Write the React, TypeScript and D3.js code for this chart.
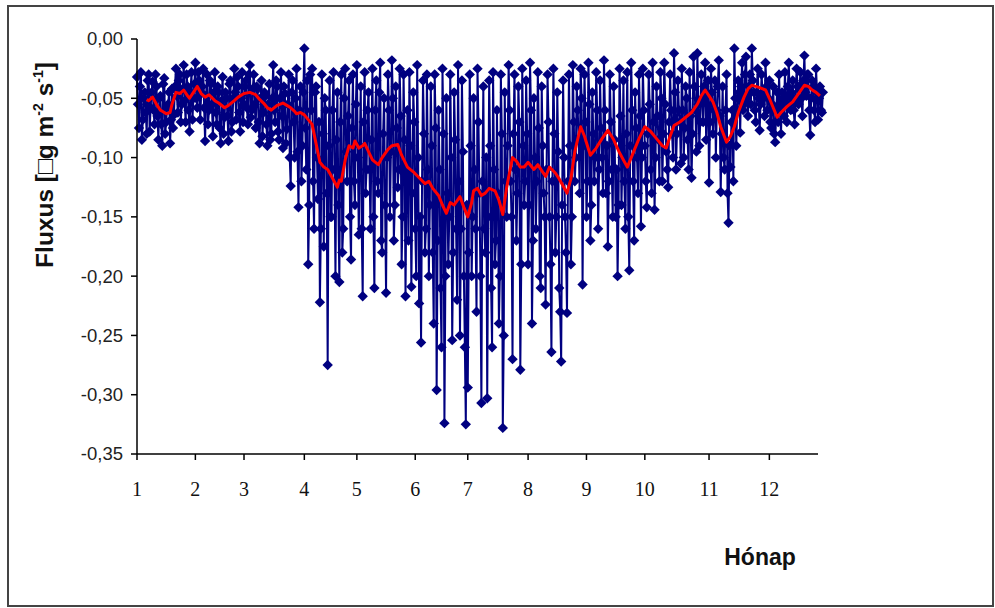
import React from "react";
import * as d3 from "d3";

// Flux values, first reading of each day (day index 0..352)
const fluxValues: number[] = [
  -0.032, -0.075, -0.028, -0.068, -0.045, -0.080, -0.030, -0.058, -0.036, -0.072,
  -0.040, -0.085, -0.048, -0.090, -0.033, -0.070, -0.055, -0.088, -0.042, -0.064,
  -0.025, -0.062, -0.030, -0.055, -0.022, -0.070, -0.040, -0.078, -0.028, -0.050,
  -0.020, -0.058, -0.035, -0.045, -0.025, -0.086, -0.030, -0.060, -0.038, -0.082,
  -0.028, -0.072, -0.045, -0.088, -0.032, -0.066, -0.050, -0.086, -0.035, -0.070,
  -0.025, -0.068, -0.040, -0.078, -0.028, -0.055, -0.035, -0.072, -0.022, -0.060,
  -0.030, -0.075, -0.042, -0.088, -0.035, -0.062, -0.048, -0.090, -0.038, -0.080,
  -0.022, -0.070, -0.040, -0.085, -0.028, -0.092, -0.046, -0.076, -0.030, -0.124,
  -0.035, -0.100, -0.025, -0.142, -0.040, -0.090, -0.008, -0.110, -0.190, -0.030,
  -0.025, -0.160, -0.040, -0.135, -0.222, -0.030, -0.175, -0.060, -0.275, -0.035,
  -0.150, -0.028, -0.200, -0.045, -0.205, -0.030, -0.160, -0.025, -0.120, -0.035,
  -0.186, -0.030, -0.140, -0.022, -0.165, -0.040, -0.217, -0.028, -0.110, -0.045,
  -0.160, -0.025, -0.210, -0.035, -0.130, -0.020, -0.180, -0.050, -0.214, -0.030,
  -0.150, -0.018, -0.170, -0.040, -0.125, -0.025, -0.190, -0.030, -0.217, -0.060,
  -0.028, -0.209, -0.045, -0.160, -0.022, -0.223, -0.256, -0.035, -0.180, -0.030,
  -0.200, -0.040, -0.180, -0.030, -0.296, -0.060, -0.210, -0.025, -0.324, -0.050,
  -0.190, -0.030, -0.254, -0.045, -0.160, -0.022, -0.250, -0.035, -0.200, -0.325,
  -0.294, -0.030, -0.200, -0.050, -0.160, -0.025, -0.130, -0.307, -0.040, -0.180,
  -0.303, -0.035, -0.210, -0.028, -0.190, -0.060, -0.240, -0.030, -0.328, -0.045,
  -0.150, -0.022, -0.120, -0.270, -0.030, -0.170, -0.040, -0.279, -0.025, -0.140,
  -0.035, -0.190, -0.020, -0.240, -0.050, -0.160, -0.028, -0.200, -0.040, -0.130,
  -0.224, -0.030, -0.150, -0.264, -0.025, -0.180, -0.045, -0.210, -0.272, -0.035,
  -0.150, -0.231, -0.030, -0.190, -0.022, -0.120, -0.040, -0.085, -0.025, -0.207,
  -0.030, -0.150, -0.020, -0.170, -0.045, -0.120, -0.028, -0.160, -0.035, -0.100,
  -0.018, -0.130, -0.175, -0.030, -0.110, -0.040, -0.150, -0.200, -0.025, -0.140,
  -0.035, -0.160, -0.028, -0.195, -0.020, -0.120, -0.045, -0.100, -0.030, -0.158,
  -0.025, -0.090, -0.142, -0.030, -0.110, -0.020, -0.144, -0.040, -0.085, -0.028,
  -0.120, -0.020, -0.095, -0.125, -0.030, -0.080, -0.012, -0.110, -0.035, -0.070,
  -0.025, -0.100, -0.040, -0.085, -0.028, -0.117, -0.015, -0.060, -0.012, -0.090,
  -0.030, -0.070, -0.020, -0.055, -0.121, -0.025, -0.080, -0.035, -0.060, -0.018,
  -0.129, -0.040, -0.110, -0.030, -0.155, -0.108, -0.060, -0.008, -0.090, -0.035,
  -0.079, -0.020, -0.055, -0.015, -0.065, -0.030, -0.008, -0.045, -0.070, -0.025,
  -0.077, -0.030, -0.050, -0.020, -0.060, -0.035, -0.075, -0.040, -0.087, -0.045,
  -0.030, -0.080, -0.050, -0.028, -0.070, -0.020, -0.060, -0.035, -0.072, -0.025,
  -0.055, -0.028, -0.065, -0.014, -0.048, -0.030, -0.081, -0.035, -0.060, -0.025,
  -0.068, -0.040, -0.062,
];

// Flux values, second reading of each day (half a day later)
const fluxValuesB: number[] = [
  -0.055, -0.040, -0.085, -0.050, -0.062, -0.035, -0.078, -0.045, -0.060, -0.030,
  -0.065, -0.050, -0.072, -0.038, -0.080, -0.058, -0.045, -0.068, -0.075, -0.040,
  -0.048, -0.035, -0.070, -0.042, -0.052, -0.030, -0.060, -0.045, -0.068, -0.038,
  -0.050, -0.028, -0.068, -0.040, -0.058, -0.048, -0.072, -0.035, -0.055, -0.045,
  -0.062, -0.040, -0.075, -0.052, -0.080, -0.045, -0.065, -0.038, -0.078, -0.050,
  -0.045, -0.032, -0.062, -0.050, -0.070, -0.040, -0.058, -0.030, -0.066, -0.042,
  -0.055, -0.040, -0.070, -0.050, -0.082, -0.045, -0.072, -0.055, -0.085, -0.050,
  -0.060, -0.035, -0.078, -0.050, -0.065, -0.040, -0.088, -0.055, -0.100, -0.045,
  -0.070, -0.050, -0.095, -0.060, -0.120, -0.045, -0.075, -0.035, -0.140, -0.060,
  -0.120, -0.045, -0.100, -0.070, -0.160, -0.080, -0.050, -0.130, -0.090, -0.150,
  -0.060, -0.110, -0.085, -0.140, -0.070, -0.180, -0.050, -0.095, -0.065, -0.150,
  -0.075, -0.120, -0.055, -0.100, -0.090, -0.160, -0.070, -0.130, -0.060, -0.110,
  -0.085, -0.150, -0.060, -0.120, -0.045, -0.170, -0.080, -0.140, -0.100, -0.060,
  -0.095, -0.050, -0.140, -0.075, -0.110, -0.065, -0.150, -0.085, -0.120, -0.170,
  -0.090, -0.130, -0.070, -0.200, -0.100, -0.150, -0.120, -0.080, -0.160, -0.110,
  -0.140, -0.090, -0.240, -0.075, -0.170, -0.110, -0.260, -0.080, -0.200, -0.130,
  -0.150, -0.100, -0.180, -0.085, -0.220, -0.120, -0.160, -0.095, -0.260, -0.140,
  -0.180, -0.090, -0.150, -0.110, -0.230, -0.070, -0.200, -0.120, -0.160, -0.100,
  -0.150, -0.090, -0.260, -0.110, -0.170, -0.130, -0.200, -0.080, -0.250, -0.120,
  -0.090, -0.060, -0.150, -0.080, -0.110, -0.130, -0.070, -0.190, -0.090, -0.120,
  -0.080, -0.140, -0.060, -0.170, -0.100, -0.120, -0.075, -0.210, -0.090, -0.150,
  -0.110, -0.070, -0.190, -0.120, -0.080, -0.150, -0.095, -0.230, -0.140, -0.100,
  -0.180, -0.120, -0.090, -0.150, -0.070, -0.100, -0.060, -0.130, -0.050, -0.090,
  -0.070, -0.120, -0.055, -0.140, -0.080, -0.100, -0.060, -0.110, -0.075, -0.130,
  -0.060, -0.090, -0.120, -0.070, -0.150, -0.085, -0.110, -0.140, -0.065, -0.100,
  -0.120, -0.080, -0.150, -0.090, -0.060, -0.170, -0.075, -0.130, -0.065, -0.100,
  -0.060, -0.120, -0.080, -0.055, -0.130, -0.070, -0.100, -0.065, -0.120, -0.050,
  -0.080, -0.055, -0.110, -0.070, -0.060, -0.100, -0.045, -0.080, -0.060, -0.105,
  -0.060, -0.075, -0.050, -0.110, -0.065, -0.080, -0.040, -0.095, -0.055, -0.070,
  -0.050, -0.040, -0.085, -0.035, -0.070, -0.045, -0.060, -0.100, -0.040, -0.065,
  -0.080, -0.100, -0.060, -0.130, -0.090, -0.070, -0.120, -0.050, -0.060, -0.045,
  -0.040, -0.060, -0.030, -0.050, -0.040, -0.055, -0.035, -0.060, -0.045, -0.050,
  -0.055, -0.045, -0.065, -0.040, -0.050, -0.070, -0.055, -0.080, -0.060, -0.070,
  -0.060, -0.045, -0.065, -0.050, -0.040, -0.055, -0.045, -0.060, -0.050, -0.040,
  -0.040, -0.050, -0.035, -0.045, -0.030, -0.060, -0.050, -0.040, -0.070, -0.045,
  -0.050, -0.060, -0.045,
];

// Moving average (red line): day positions and values
const maDays: number[] = [
  5, 6, 8, 10, 12, 13, 15, 17, 18, 20, 22, 24, 26, 27, 29, 31, 33, 35, 37, 40,
  42, 45, 47, 50, 52, 55, 58, 61, 63, 65, 67, 69, 72, 75, 77, 79, 81, 82, 84, 86,
  88, 90, 92, 94, 96, 98, 100, 103, 104, 105, 107, 109, 111, 112, 114, 116, 117, 119, 121, 124,
  126, 129, 131, 134, 136, 139, 142, 145, 148, 150, 152, 155, 157, 159, 161, 163, 166, 168, 170, 172,
  173, 175, 177, 179, 181, 184, 186, 188, 190, 193, 195, 197, 199, 201, 204, 206, 208, 210, 212, 215,
  217, 219, 221, 223, 225, 228, 230, 233, 236, 239, 242, 245, 248, 250, 252, 255, 258, 261, 264, 267,
  270, 272, 274, 276, 279, 282, 285, 288, 290, 292, 294, 296, 298, 300, 303, 305, 307, 309, 312, 314,
  316, 318, 320, 323, 325, 327, 329, 331, 334, 337, 340, 343, 345, 347, 349, 351,
];
const maValues: number[] = [
  -0.051, -0.052, -0.049, -0.055, -0.060, -0.061, -0.063, -0.062, -0.055, -0.045,
  -0.046, -0.043, -0.048, -0.050, -0.045, -0.040, -0.046, -0.049, -0.047, -0.052,
  -0.054, -0.058, -0.056, -0.052, -0.049, -0.046, -0.045, -0.047, -0.051, -0.054,
  -0.058, -0.060, -0.056, -0.054, -0.056, -0.058, -0.061, -0.063, -0.062, -0.064,
  -0.068, -0.072, -0.088, -0.104, -0.108, -0.110, -0.116, -0.125, -0.119, -0.120,
  -0.102, -0.090, -0.092, -0.086, -0.092, -0.090, -0.088, -0.095, -0.102, -0.106,
  -0.100, -0.093, -0.090, -0.089, -0.098, -0.108, -0.112, -0.117, -0.122, -0.120,
  -0.126, -0.132, -0.140, -0.147, -0.138, -0.140, -0.133, -0.142, -0.150, -0.138,
  -0.128, -0.126, -0.132, -0.130, -0.126, -0.128, -0.136, -0.148, -0.125, -0.100,
  -0.103, -0.108, -0.108, -0.104, -0.110, -0.106, -0.111, -0.116, -0.108, -0.113,
  -0.118, -0.124, -0.130, -0.118, -0.095, -0.074, -0.082, -0.098, -0.092, -0.084,
  -0.077, -0.085, -0.096, -0.102, -0.108, -0.096, -0.084, -0.074, -0.078, -0.084,
  -0.090, -0.092, -0.082, -0.073, -0.070, -0.066, -0.062, -0.055, -0.048, -0.043,
  -0.048, -0.053, -0.062, -0.074, -0.087, -0.082, -0.074, -0.062, -0.049, -0.042,
  -0.039, -0.040, -0.041, -0.043, -0.050, -0.058, -0.066, -0.062, -0.057, -0.053,
  -0.046, -0.039, -0.040, -0.043, -0.045, -0.048,
];

// Axis ticks
const monthTickDays: number[] = [0, 30, 55, 86, 113, 143, 170, 201, 231, 261, 294, 325];
const monthLabels: string[] = ["1", "2", "3", "4", "5", "6", "7", "8", "9", "10", "11", "12"];
const yTickValues: number[] = [0, -0.05, -0.1, -0.15, -0.2, -0.25, -0.3, -0.35];
const yTickLabels: string[] = ["0,00", "-0,05", "-0,10", "-0,15", "-0,20", "-0,25", "-0,30", "-0,35"];

const NAVY = "#000080";

type Pt = { t: number; v: number };

export default function App() {
  const x = d3.scaleLinear().domain([0, 350]).range([137, 818]);
  const y = d3.scaleLinear().domain([-0.35, 0]).range([454, 39]);

  const series: Pt[] = fluxValues.flatMap((v, i) => [
    { t: i, v },
    { t: i + 0.5, v: fluxValuesB[i] },
  ]);

  const dataLine = d3
    .line<Pt>()
    .x((d) => x(d.t))
    .y((d) => y(d.v));
  const maLine = d3
    .line<number>()
    .x((_, i) => x(maDays[i]))
    .y((v) => y(v));

  const diamond = "M0,-5.2L5.2,0L0,5.2L-5.2,0Z";

  return (
    <svg
      width={995}
      height={608}
      style={{ position: "absolute", left: 0, top: 0, background: "#fff" }}
      fontFamily="'Liberation Sans', Arial, sans-serif"
    >
      <rect x={8} y={6} width={985} height={600} fill="#fff" stroke="#444" strokeWidth={2} />

      {/* data line */}
      <path d={dataLine(series) || ""} fill="none" stroke={NAVY} strokeWidth={2} />
      {series.map((d, i) => (
        <path key={i} d={diamond} transform={`translate(${x(d.t)},${y(d.v)})`} fill={NAVY} />
      ))}

      {/* moving average */}
      <path d={maLine(maValues) || ""} fill="none" stroke="#ff0000" strokeWidth={3} strokeLinejoin="round" />

      {/* y axis */}
      <line x1={137} x2={137} y1={y(0)} y2={y(-0.35)} stroke="#000" strokeWidth={1.5} />
      {yTickValues.map((v, i) => (
        <g key={i} transform={`translate(0,${y(v)})`}>
          <line x1={131} x2={137} stroke="#000" strokeWidth={1.5} />
          <text x={123} dy="0.35em" textAnchor="end" fontSize={18.5} fill="#222">
            {yTickLabels[i]}
          </text>
        </g>
      ))}

      {/* x axis */}
      <line x1={137} x2={818} y1={454} y2={454} stroke="#000" strokeWidth={1.5} />
      {monthTickDays.map((d, i) => (
        <g key={i} transform={`translate(${x(d)},454)`}>
          <line y1={0} y2={6} stroke="#000" strokeWidth={1.5} />
          <text
            y={42}
            textAnchor="middle"
            fontSize={20}
            fontFamily="'Liberation Serif', 'Times New Roman', serif"
            fill="#111"
          >
            {monthLabels[i]}
          </text>
        </g>
      ))}

      {/* axis titles */}
      <text x={760} y={565} textAnchor="middle" fontSize={23} fontWeight="bold" fill="#111">
        Hónap
      </text>
      <text
        transform="translate(53,165) rotate(-90)"
        textAnchor="middle"
        fontSize={24.5}
        fontWeight="bold"
        fill="#111"
      >
        Fluxus [□g m
        <tspan fontSize={14} dy={-10}>-2</tspan>
        <tspan dy={10}> s</tspan>
        <tspan fontSize={14} dy={-10}>-1</tspan>
        <tspan dy={10}>]</tspan>
      </text>
    </svg>
  );
}
